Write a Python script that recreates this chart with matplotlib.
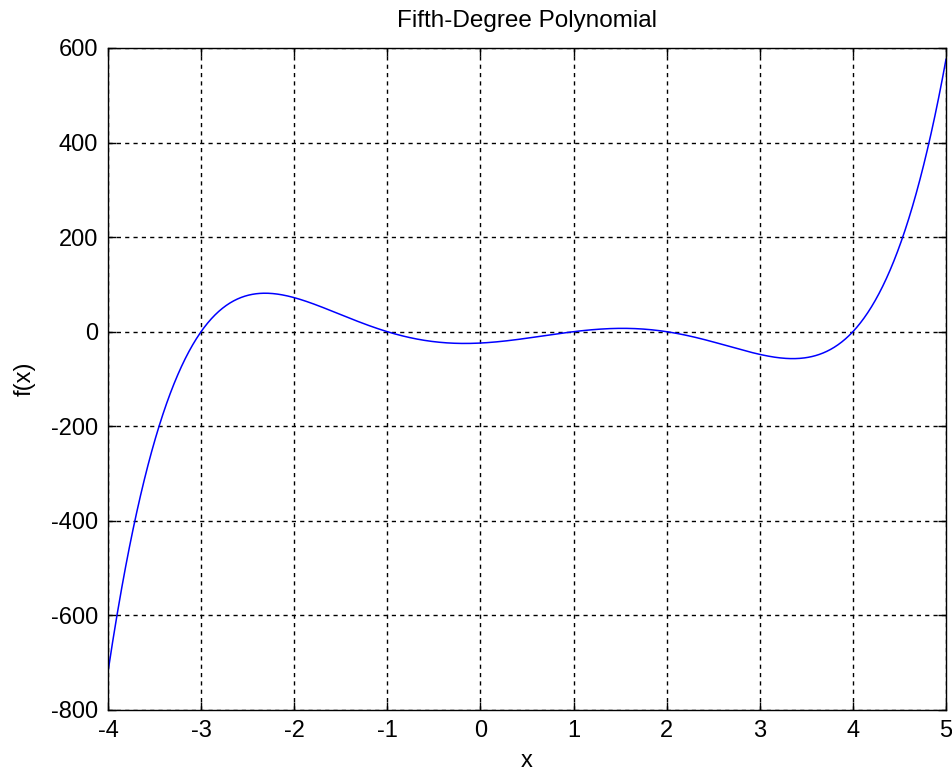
import numpy as np
import matplotlib
matplotlib.use('Agg')
import matplotlib.pyplot as plt

# roots of the plotted polynomial, read from the zero crossings
roots = [-3, -1, 1, 2, 4]
x_range = [-4, 5]
y_ticks = [-800, -600, -400, -200, 0, 200, 400, 600]
x_ticks = [-4, -3, -2, -1, 0, 1, 2, 3, 4, 5]

plt.rcParams['font.family'] = ['Liberation Sans', 'DejaVu Sans']
plt.rcParams['font.size'] = 17
plt.rcParams['axes.unicode_minus'] = False

x = np.linspace(x_range[0], x_range[1], 901)
coeffs = np.poly(roots)
y = np.polyval(coeffs, x)

fig = plt.figure(figsize=(9.52, 7.75), dpi=100)
ax = fig.add_axes([0.1134, 0.0839, 0.8803, 0.8542])
ax.plot(x, y, color='#0000ff', linewidth=1.1)

ax.set_xlim(x_range)
ax.set_ylim(-800, 600)
ax.set_xticks(x_ticks)
ax.set_yticks(y_ticks)
ax.tick_params(direction='in', top=True, right=True, length=6, width=1.0, pad=7)
ax.grid(True, color='black', linestyle=(0, (3, 3)), linewidth=1.0)
for s in ax.spines.values():
    s.set_linewidth(1.0)

ax.set_title('Fifth-Degree Polynomial', fontsize=17.5, pad=15)
ax.set_xlabel('x', labelpad=6)
ax.set_ylabel('f(x)', labelpad=11)

fig.savefig('out.png', dpi=100)
